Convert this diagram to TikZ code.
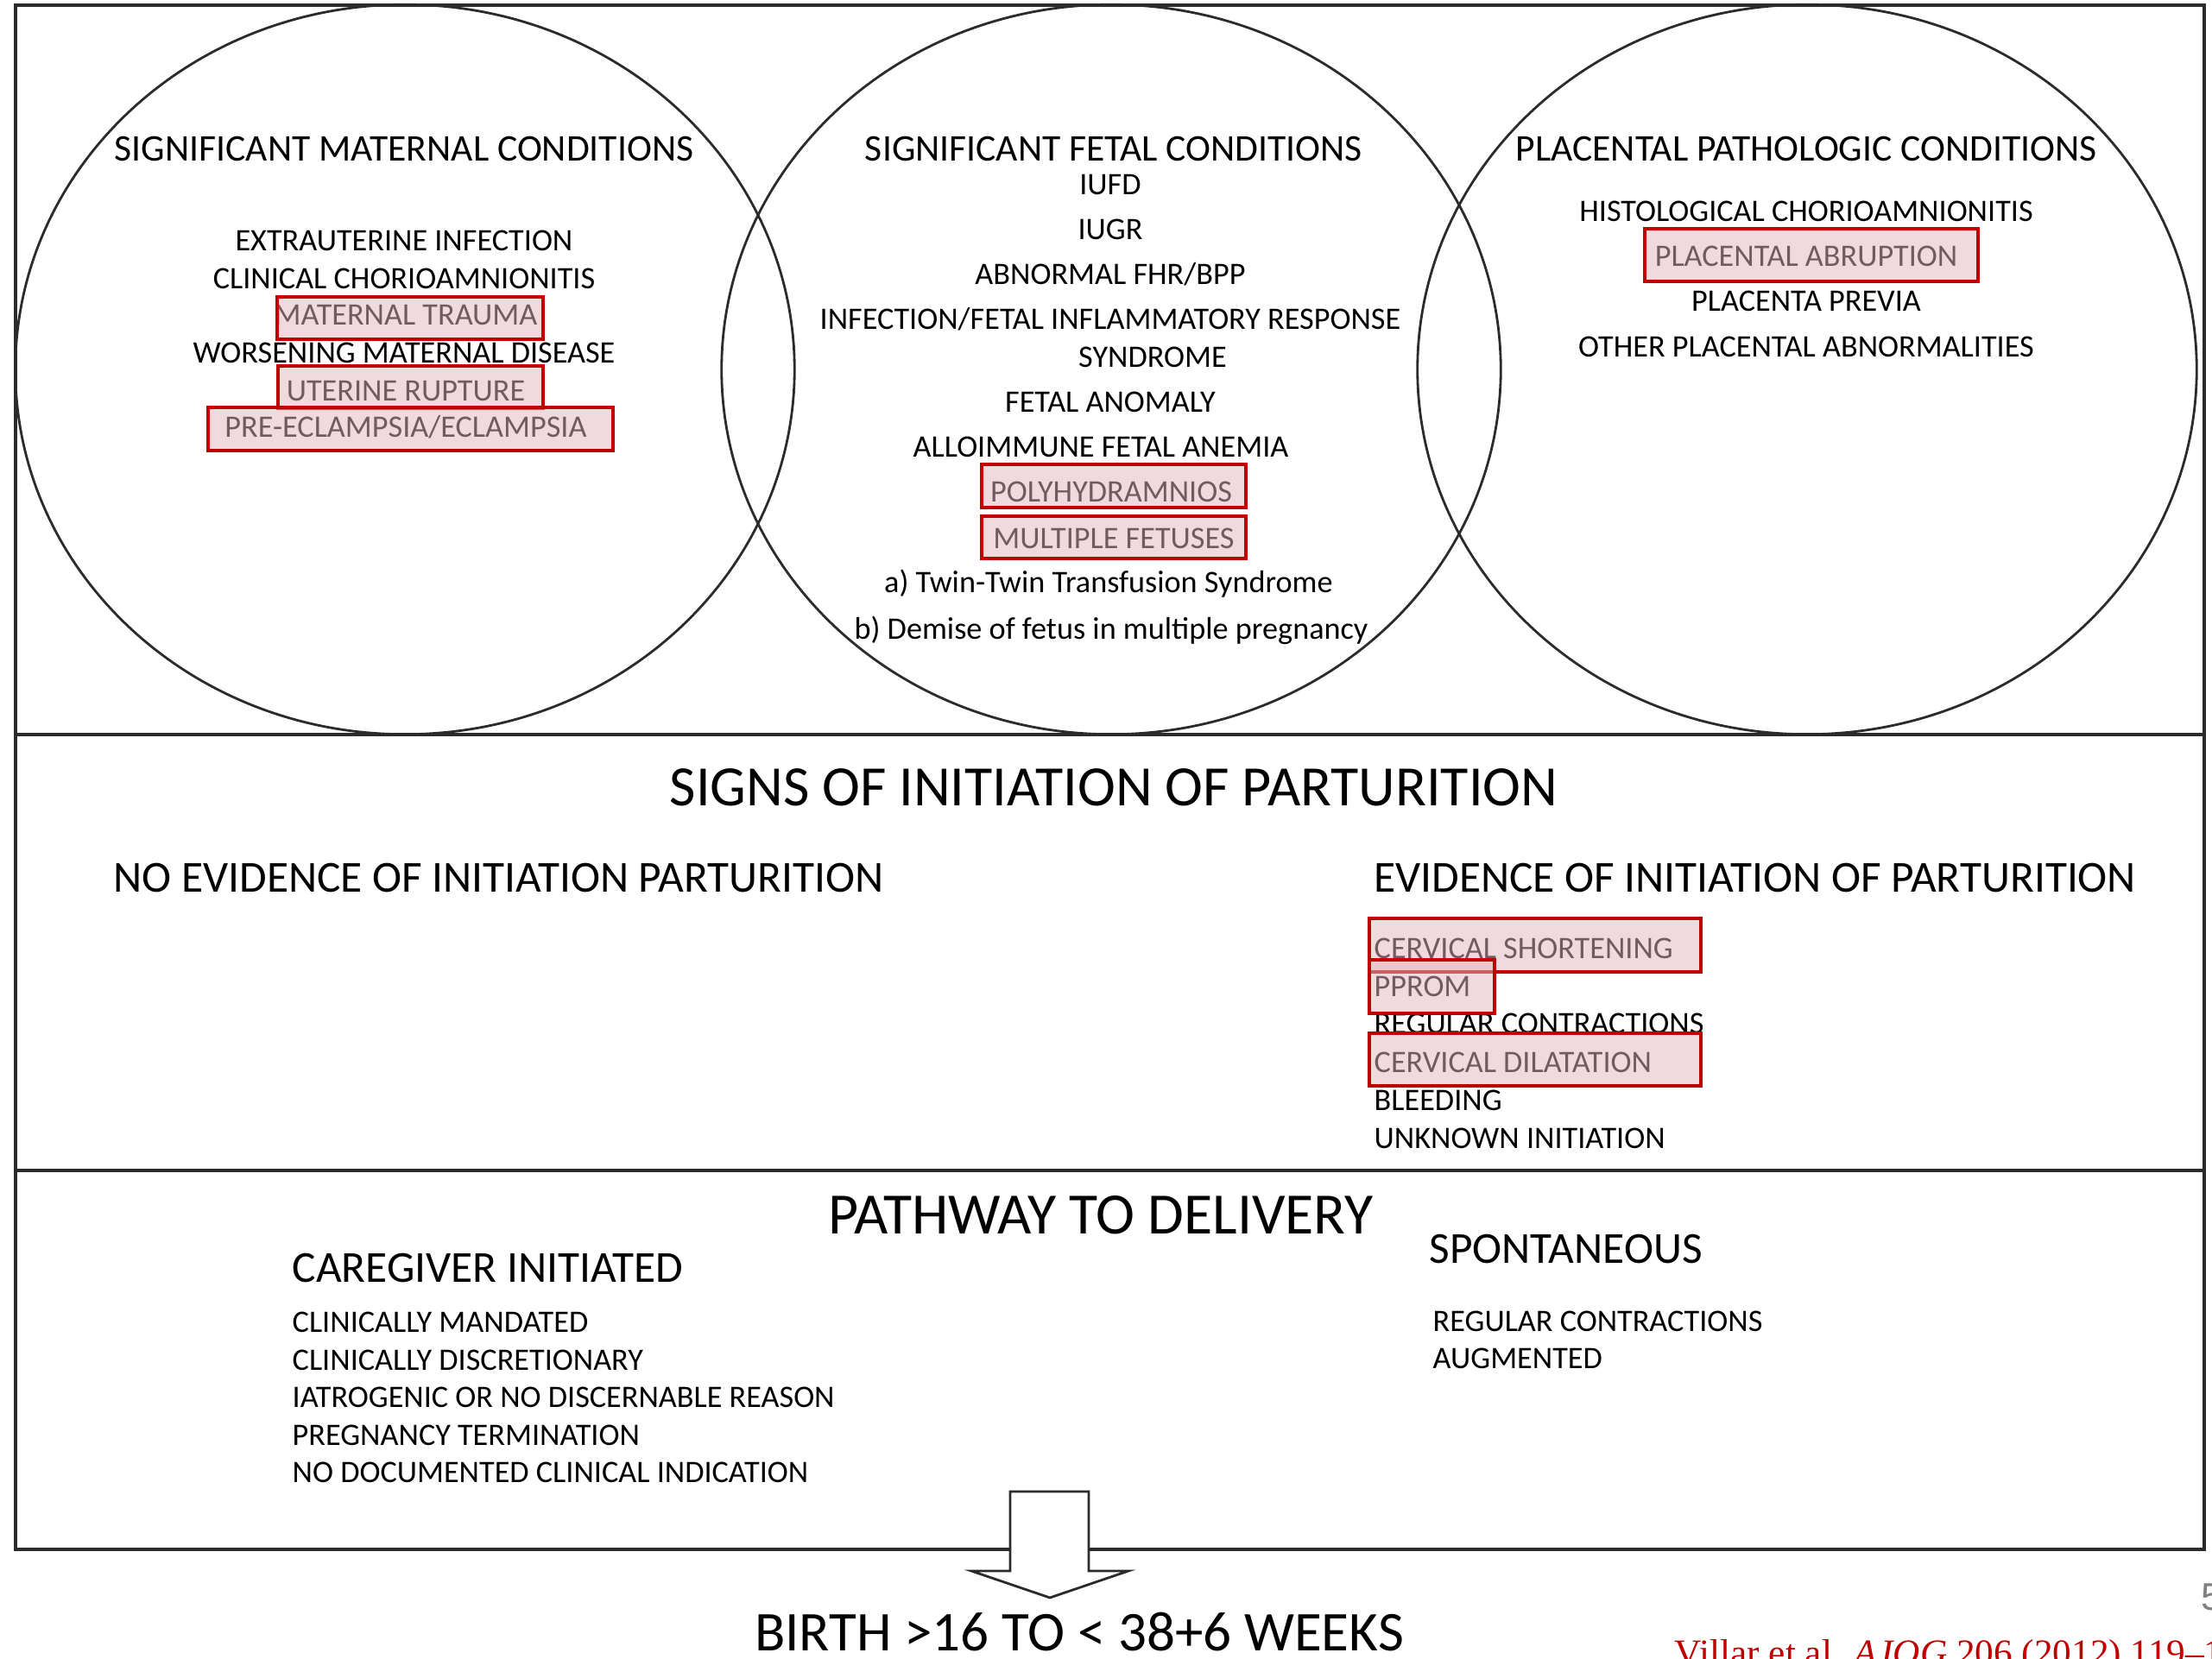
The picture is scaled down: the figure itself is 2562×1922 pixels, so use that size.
\documentclass[tikz,border=0pt]{standalone}
\usepackage{fontspec}
\setmainfont{Carlito}
\newfontfamily\citefont{Liberation Serif}
\newfontfamily\pagefont{Liberation Sans}
\usepackage{tikz}
\usetikzlibrary{positioning, shapes.geometric}
\definecolor{hlred}{HTML}{C00000}
\definecolor{hlpink}{HTML}{E1B9BE}
\definecolor{framegray}{HTML}{2B2B2B}
\newcommand{\fsItem}{\fontsize{10.3}{12}\selectfont}
\newcommand{\fsHead}{\fontsize{12.4}{14}\selectfont}
\newcommand{\fsSub}{\fontsize{14.6}{17}\selectfont}
\newcommand{\fsTitle}{\fontsize{18.8}{22}\selectfont}

\begin{document}
\begin{tikzpicture}[
  x=0.01cm, y=-0.01cm,
  venn/.style={ellipse, draw=framegray, line width=0.8pt, minimum width=9.02cm,
               minimum height=8.45cm, inner sep=0},
  circhead/.style={font=\fsHead, anchor=base, inner sep=0},
  item/.style={font=\fsItem, anchor=base, inner sep=0},
  listitem/.style={font=\fsItem, anchor=base west, inner sep=0},
  sectitle/.style={font=\fsTitle, anchor=base, inner sep=0},
  subhead/.style={font=\fsSub, anchor=base west, inner sep=0},
  hl/.style={draw=hlred, line width=1.1pt, fill=hlpink, fill opacity=0.5,
             draw opacity=1, inner sep=0, minimum height=0.49cm},
  blockarrow/.style={draw=framegray, line width=0.8pt, fill=white}
]
  \useasboundingbox (0,0) rectangle (2562,1922);
  \clip (0,0) rectangle (2562,1922);
  \fill[white] (0,0) rectangle (2562,1922);

  % frame and bands
  \draw[framegray, line width=1pt] (18,6) rectangle (2553,1795);
  \draw[framegray, line width=1pt] (18,851) -- (2553,851);
  \draw[framegray, line width=1pt] (18,1356) -- (2553,1356);

  % the three circles
  \node[venn] (maternal) at (469,428) {};
  \node[venn] (fetal) at (1287,428) {};
  \node[venn] (placental) at (2093,428) {};

  % maternal conditions
  \node[circhead] (matHead) at (468,187) {SIGNIFICANT MATERNAL CONDITIONS};
  \node[item] (matInfect) at (468,291) {EXTRAUTERINE INFECTION};
  \node[item] (matChorio) at (468,335) {CLINICAL CHORIOAMNIONITIS};
  \node[item] (matTrauma) at (470,377) {MATERNAL TRAUMA};
  \node[item] (matDisease) at (468,421) {WORSENING MATERNAL DISEASE};
  \node[item] (matRupture) at (470,465) {UTERINE RUPTURE};
  \node[item] (matEclampsia) at (470,507) {PRE-ECLAMPSIA/ECLAMPSIA};

  % fetal conditions
  \node[circhead] (fetHead) at (1290,187) {SIGNIFICANT FETAL CONDITIONS};
  \node[item] (fetIufd) at (1286,226) {IUFD};
  \node[item] (fetIugr) at (1286,278) {IUGR};
  \node[item] (fetFhr) at (1286,330) {ABNORMAL FHR/BPP};
  \node[item] (fetInfect) at (1286,382) {INFECTION/FETAL INFLAMMATORY RESPONSE};
  \node[item] (fetSyndrome) at (1335,426) {SYNDROME};
  \node[item] (fetAnomaly) at (1286,478) {FETAL ANOMALY};
  \node[item] (fetAnemia) at (1275,530) {ALLOIMMUNE FETAL ANEMIA};
  \node[item] (fetPoly) at (1287,582) {POLYHYDRAMNIOS};
  \node[item] (fetMultiple) at (1290,636) {MULTIPLE FETUSES};
  \node[item] (fetTwin) at (1284,687) {a) Twin-Twin Transfusion Syndrome};
  \node[item] (fetDemise) at (1287,741) {b) Demise of fetus in multiple pregnancy};

  % placental conditions
  \node[circhead] (plaHead) at (2092,187) {PLACENTAL PATHOLOGIC CONDITIONS};
  \node[item] (plaHisto) at (2092,257) {HISTOLOGICAL CHORIOAMNIONITIS};
  \node[item] (plaAbruption) at (2092,309) {PLACENTAL ABRUPTION};
  \node[item] (plaPrevia) at (2092,361) {PLACENTA PREVIA};
  \node[item] (plaOther) at (2092,414) {OTHER PLACENTAL ABNORMALITIES};

  % signs of initiation
  \node[sectitle] (signs) at (1290,934) {SIGNS OF INITIATION OF PARTURITION};
  \node[subhead] (noEvid) at (131,1034) {NO EVIDENCE OF INITIATION PARTURITION};
  \node[subhead] (evid) at (1591,1034) {EVIDENCE OF INITIATION OF PARTURITION};
  \node[listitem] (evShort) at (1591,1111) {CERVICAL SHORTENING};
  \node[listitem] (evPprom) at (1591,1155) {PPROM};
  \node[listitem] (evContr) at (1591,1198) {REGULAR CONTRACTIONS};
  \node[listitem] (evDilat) at (1591,1243) {CERVICAL DILATATION};
  \node[listitem] (evBleed) at (1591,1287) {BLEEDING};
  \node[listitem] (evUnknown) at (1591,1331) {UNKNOWN INITIATION};

  % pathway to delivery
  \node[sectitle, font=\fontsize{19.3}{22}\selectfont] (pathway) at (1275,1430)
    {PATHWAY TO DELIVERY};
  \node[subhead] (caregiver) at (338,1485) {CAREGIVER INITIATED};
  \node[listitem] (cgMandated) at (338,1544) {CLINICALLY MANDATED};
  \node[listitem] (cgDiscret) at (338,1587) {CLINICALLY DISCRETIONARY};
  \node[listitem] (cgIatro) at (338,1630) {IATROGENIC OR NO DISCERNABLE REASON};
  \node[listitem] (cgTerm) at (338,1674) {PREGNANCY TERMINATION};
  \node[listitem] (cgNoDoc) at (338,1718) {NO DOCUMENTED CLINICAL INDICATION};
  \node[subhead] (spont) at (1655,1464) {SPONTANEOUS};
  \node[listitem] (spContr) at (1659,1542) {REGULAR CONTRACTIONS};
  \node[listitem] (spAug) at (1659,1585) {AUGMENTED};

  % highlight boxes
  \node[hl, minimum width=3.08cm] (hlTrauma) at (475,368.5) {};
  \node[hl, minimum width=3.07cm] (hlRupture) at (475.5,448.5) {};
  \node[hl, minimum width=4.69cm, minimum height=0.50cm] (hlEclampsia) at (475.5,497) {};
  \node[hl, minimum width=3.06cm, minimum height=0.50cm] (hlPoly) at (1290,563) {};
  \node[hl, minimum width=3.06cm] (hlMultiple) at (1290,622.5) {};
  \node[hl, minimum width=3.86cm, minimum height=0.61cm] (hlAbruption) at (2098,295.5) {};
  \node[hl, minimum width=3.84cm, minimum height=0.62cm] (hlShort) at (1778,1095) {};
  \node[hl, minimum width=1.45cm, minimum height=0.62cm] (hlPprom) at (1658.5,1143) {};
  \node[hl, minimum width=3.84cm, minimum height=0.61cm] (hlDilat) at (1778,1227.5) {};

  % arrow to birth
  \node[sectitle, font=\fontsize{18.5}{22}\selectfont] (birth) at (1250,1912)
    {BIRTH >16 TO < 38+6 WEEKS};
  \coordinate (arrowTop) at (1170,1728);
  \draw[blockarrow] (arrowTop) -- ++(91,0) -- ++(0,92) -- ++(46,0)
    -- ++(-91,31) -- ++(-91,-31) -- ++(45,0) -- cycle;

  \node[font=\pagefont\fontsize{12.7}{14}\selectfont, text=black!50,
        anchor=base west, inner sep=0] (pageNo) at (2549,1865) {5};
  \node[font=\citefont\fontsize{12.3}{14}\selectfont, text=hlred,
        anchor=base west, inner sep=0] (cite) at (1939,1929)
    {Villar et al. \textit{AJOG} 206 (2012) 119–1};
\end{tikzpicture}
\end{document}
